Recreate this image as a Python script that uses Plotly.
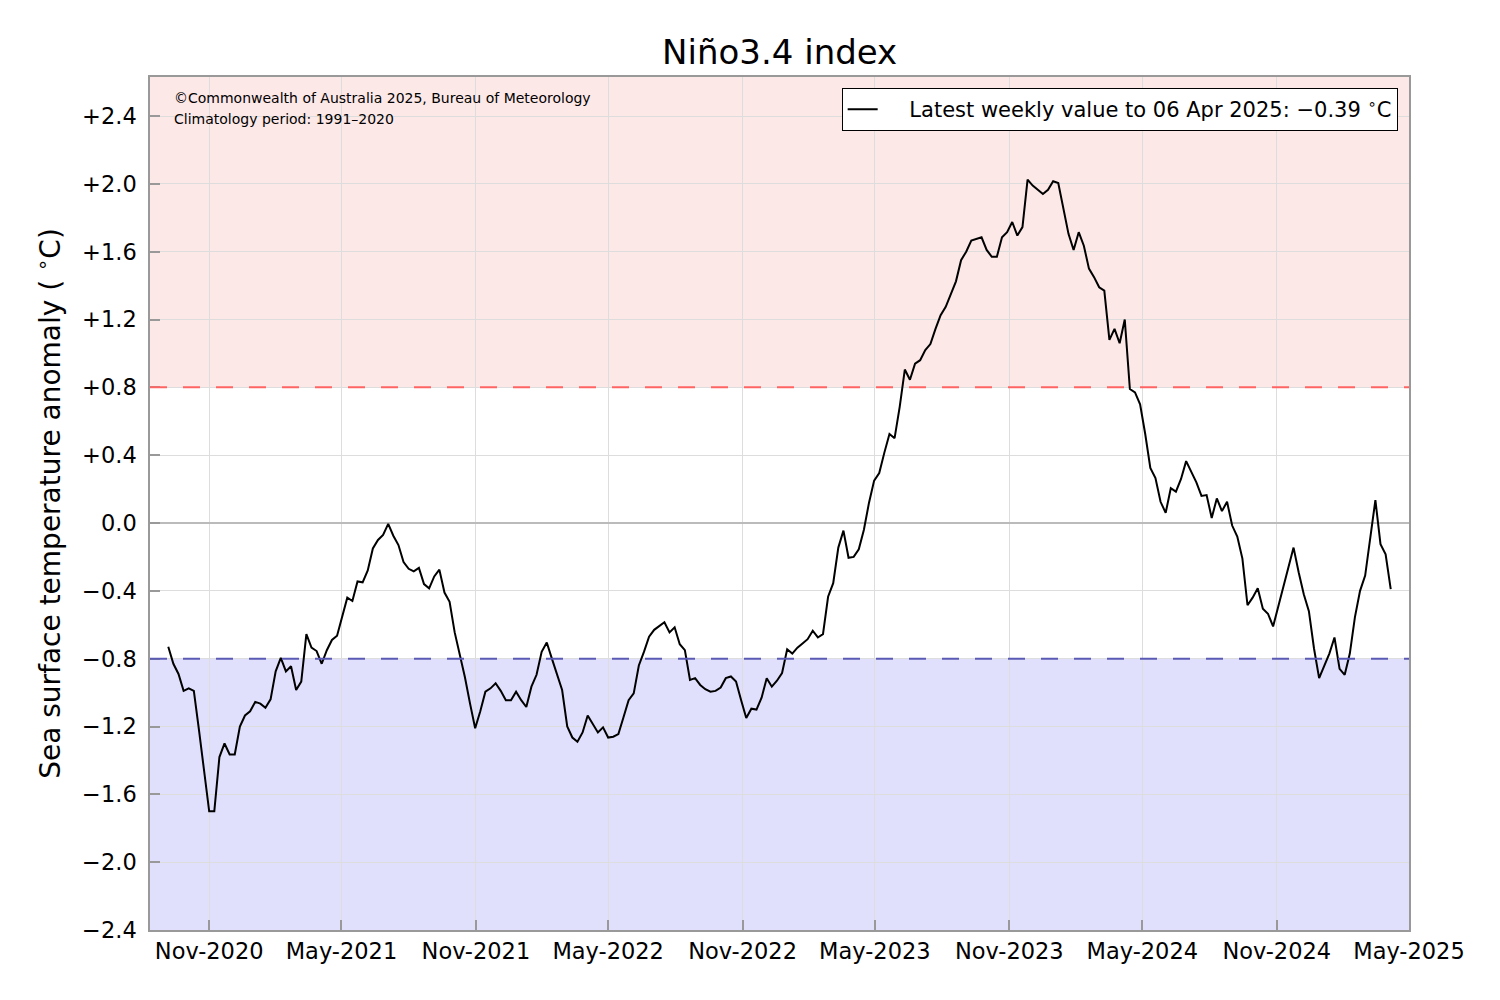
import pandas as pd
import plotly.graph_objects as go

start_date = "2020-09-06"
weekly_values = [
    -0.73, -0.83, -0.89, -0.99, -0.975, -0.99, -1.22, -1.46, -1.70, -1.70,
    -1.38, -1.30, -1.365, -1.365, -1.20, -1.135, -1.11, -1.055, -1.065, -1.09,
    -1.04, -0.875, -0.795, -0.875, -0.845, -0.985, -0.935, -0.655, -0.735, -0.755,
    -0.83, -0.75, -0.69, -0.665, -0.555, -0.44, -0.46, -0.345, -0.35, -0.28,
    -0.15, -0.10, -0.07, -0.005, -0.075, -0.13, -0.23, -0.27, -0.285, -0.265,
    -0.36, -0.385, -0.315, -0.275, -0.41, -0.465, -0.645, -0.77, -0.91, -1.065,
    -1.21, -1.11, -0.995, -0.975, -0.945, -0.99, -1.045, -1.045, -0.995, -1.045,
    -1.085, -0.965, -0.895, -0.76, -0.705, -0.80, -0.90, -0.985, -1.20, -1.265,
    -1.29, -1.235, -1.135, -1.185, -1.235, -1.205, -1.265, -1.26, -1.245, -1.145,
    -1.045, -1.005, -0.84, -0.76, -0.67, -0.63, -0.605, -0.585, -0.645, -0.615,
    -0.715, -0.75, -0.925, -0.915, -0.955, -0.98, -0.995, -0.99, -0.97, -0.915,
    -0.905, -0.935, -1.045, -1.15, -1.095, -1.10, -1.03, -0.915, -0.965, -0.93,
    -0.885, -0.745, -0.77, -0.735, -0.71, -0.685, -0.635, -0.675, -0.655, -0.435,
    -0.355, -0.145, -0.045, -0.205, -0.20, -0.155, -0.04, 0.12, 0.25, 0.295,
    0.415, 0.525, 0.50, 0.685, 0.905, 0.845, 0.94, 0.96, 1.02, 1.055,
    1.145, 1.225, 1.275, 1.355, 1.425, 1.55, 1.60, 1.665, 1.675, 1.685,
    1.61, 1.57, 1.57, 1.685, 1.715, 1.775, 1.695, 1.745, 2.025, 1.99,
    1.965, 1.94, 1.965, 2.015, 2.005, 1.845, 1.705, 1.61, 1.715, 1.635,
    1.50, 1.45, 1.39, 1.37, 1.08, 1.145, 1.06, 1.20, 0.79, 0.77,
    0.70, 0.525, 0.325, 0.265, 0.125, 0.06, 0.205, 0.185, 0.26, 0.365,
    0.305, 0.24, 0.16, 0.165, 0.03, 0.145, 0.07, 0.125, -0.015, -0.08,
    -0.21, -0.485, -0.44, -0.385, -0.505, -0.535, -0.61, -0.495, -0.38, -0.26,
    -0.145, -0.29, -0.42, -0.52, -0.74, -0.915, -0.845, -0.77, -0.675, -0.86,
    -0.895, -0.77, -0.555, -0.40, -0.31, -0.085, 0.135, -0.125, -0.185, -0.39,
]
dates = pd.date_range(start_date, periods=len(weekly_values), freq="7D")

x_tick_dates = ["2020-11-01", "2021-05-01", "2021-11-01", "2022-05-01", "2022-11-01",
                "2023-05-01", "2023-11-01", "2024-05-01", "2024-11-01", "2025-05-01"]
x_tick_labels = ["Nov-2020", "May-2021", "Nov-2021", "May-2022", "Nov-2022",
                 "May-2023", "Nov-2023", "May-2024", "Nov-2024", "May-2025"]
y_tick_vals = [-2.4, -2.0, -1.6, -1.2, -0.8, -0.4, 0.0, 0.4, 0.8, 1.2, 1.6, 2.0, 2.4]
y_tick_labels = ["\u22122.4", "\u22122.0", "\u22121.6", "\u22121.2", "\u22120.8", "\u22120.4", "0.0",
                 "+0.4", "+0.8", "+1.2", "+1.6", "+2.0", "+2.4"]
el_nino_threshold = 0.8
la_nina_threshold = -0.8
y_range = [-2.4, 2.63]
x_range = ["2020-08-12", "2025-05-01"]

FONT = "DejaVu Sans"

fig = go.Figure()
fig.add_trace(go.Scatter(
    x=dates, y=weekly_values, mode="lines",
    line=dict(color="black", width=2),
    name="    Latest weekly value to 06 Apr 2025: \u22120.39 <sup>\u2218</sup>C",
    showlegend=True,
))

# shaded regions
fig.add_shape(type="rect", xref="paper", yref="y", x0=0, x1=1,
              y0=el_nino_threshold, y1=y_range[1],
              fillcolor="#fde8e8", line_width=0, layer="below")
fig.add_shape(type="rect", xref="paper", yref="y", x0=0, x1=1,
              y0=y_range[0], y1=la_nina_threshold,
              fillcolor="#e0e0fc", line_width=0, layer="below")
# threshold lines
fig.add_shape(type="line", xref="paper", yref="y", x0=0, x1=1,
              y0=el_nino_threshold, y1=el_nino_threshold,
              line=dict(color="#ff6464", width=2, dash="17px,16px"), layer="above")
fig.add_shape(type="line", xref="paper", yref="y", x0=0, x1=1,
              y0=la_nina_threshold, y1=la_nina_threshold,
              line=dict(color="#5a5ab4", width=2, dash="17px,16px"), layer="above")

fig.add_annotation(xref="paper", yref="paper", x=0.0175, y=0.975, xanchor="left", yanchor="middle",
                   text="\u00a9Commonwealth of Australia 2025, Bureau of Meteorology",
                   showarrow=False, font=dict(family=FONT, size=14, color="black"))
fig.add_annotation(xref="paper", yref="paper", x=0.0175, y=0.951, xanchor="left", yanchor="middle",
                   text="Climatology period: 1991\u20132020",
                   showarrow=False, font=dict(family=FONT, size=14, color="black"))

fig.update_layout(
    width=1484, height=984,
    margin=dict(l=142, r=83, t=69, b=62),
    paper_bgcolor="white", plot_bgcolor="white",
    font=dict(family=FONT, color="black"),
    title=dict(text="Niño3.4 index", x=0.520, xanchor="center", y=0.9553, yanchor="middle",
               font=dict(family=FONT, size=34, color="black")),
    legend=dict(x=0.991, y=0.987, xanchor="right", yanchor="top",
                bgcolor="white", bordercolor="black", borderwidth=1,
                font=dict(family=FONT, size=21, color="black")),
    xaxis=dict(range=x_range, type="date", tickvals=x_tick_dates, ticktext=x_tick_labels,
               ticks="inside", ticklen=10, tickcolor="#999999", tickwidth=2,
               showline=True, linecolor="#999999", linewidth=1.5, mirror=True,
               showgrid=True, gridcolor="#dddddd", gridwidth=1,
               tickfont=dict(family=FONT, size=22.5, color="black"), zeroline=False),
    yaxis=dict(range=y_range, tickvals=y_tick_vals, ticktext=y_tick_labels,
               ticks="inside", ticklen=10, tickcolor="#999999", tickwidth=2,
               showline=True, linecolor="#999999", linewidth=1.5, mirror=True,
               showgrid=True, gridcolor="#dddddd", gridwidth=1,
               zeroline=True, zerolinecolor="#bbbbbb", zerolinewidth=2,
               ticklabelstandoff=7,
               tickfont=dict(family=FONT, size=22.5, color="black"),
               title=dict(text="Sea surface temperature anomaly ( <sup>\u2218</sup>C)",
                          font=dict(family=FONT, size=28, color="black"), standoff=13)),
)

fig.write_html("out.html")
